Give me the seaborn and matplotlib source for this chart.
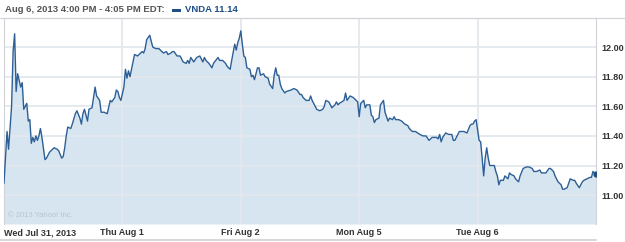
import matplotlib
matplotlib.use("Agg")
import matplotlib.pyplot as plt
from matplotlib.lines import Line2D
import numpy as np
import pandas as pd
import seaborn as sns

# ---- data (minutes since 9:30 open, price) ----
day_labels = ["Wed Jul 31, 2013", "Thu Aug 1", "Fri Aug 2", "Mon Aug 5", "Tue Aug 6"]

d0_min = [0, 10, 15, 25, 30, 35, 40, 45, 55, 60, 65, 75, 80, 85, 90, 95, 100, 105, 110, 115,
          120, 125, 135, 140, 150, 165, 175, 180, 190, 195, 200, 205, 210, 220, 225, 235, 240,
          250, 255, 260, 265, 275, 280, 290, 300, 305, 315, 320, 330, 340, 350, 355, 365, 370,
          375, 380, 385]
d0_px = [11.08, 11.43, 11.31, 11.60, 11.97, 12.09, 11.70, 11.82, 11.73, 11.76, 11.58, 11.62, 11.50,
         11.51, 11.35, 11.39, 11.36, 11.40, 11.37, 11.40, 11.45, 11.39, 11.24, 11.25, 11.29,
         11.32, 11.31, 11.30, 11.25, 11.26, 11.32, 11.40, 11.46, 11.45, 11.48, 11.55, 11.57,
         11.52, 11.48, 11.55, 11.58, 11.50, 11.58, 11.59, 11.73, 11.67, 11.64, 11.56, 11.56,
         11.55, 11.64, 11.63, 11.66, 11.71, 11.70, 11.66, 11.64]

d1_min = [5, 10, 15, 20, 25, 35, 40, 50, 55, 65, 70, 75, 80, 90, 95, 100, 110, 120, 130, 135,
          145, 150, 160, 165, 170, 180, 190, 200, 210, 215, 220, 225, 235, 245, 255, 265, 270,
          275, 285, 295, 300, 315, 320, 330, 340, 345, 355, 360, 370, 375, 380, 385]
d1_px = [11.73, 11.85, 11.79, 11.84, 11.80, 11.90, 11.95, 11.94, 11.95, 11.97, 11.96, 11.99,
         12.05, 12.08, 12.04, 12.00, 11.99, 11.99, 11.97, 11.96, 11.97, 11.95, 11.96, 11.97,
         11.97, 11.94, 11.94, 11.90, 11.89, 11.91, 11.89, 11.93, 11.90, 11.93, 11.94, 11.90,
         11.93, 11.91, 11.89, 11.86, 11.89, 11.93, 11.91, 11.91, 11.89, 11.87, 11.85, 11.91,
         12.02, 11.98, 12.03, 12.06]

d2_min = [0, 5, 10, 15, 20, 30, 35, 40, 45, 55, 60, 65, 75, 80, 90, 95, 105, 110, 115, 120,
          125, 130, 135, 145, 150, 165, 175, 185, 195, 200, 205, 215, 225, 230, 235, 245, 250,
          260, 270, 275, 280, 290, 295, 300, 310, 315, 320, 325, 340, 345, 350, 360, 370, 375,
          380, 385]
d2_px = [12.11, 12.02, 11.94, 11.93, 11.86, 11.85, 11.80, 11.81, 11.78, 11.86, 11.86, 11.81,
         11.82, 11.80, 11.79, 11.75, 11.72, 11.81, 11.86, 11.81, 11.81, 11.75, 11.72, 11.69,
         11.70, 11.71, 11.72, 11.71, 11.68, 11.68, 11.66, 11.64, 11.64, 11.67, 11.64, 11.60,
         11.58, 11.57, 11.58, 11.60, 11.64, 11.63, 11.61, 11.59, 11.61, 11.63, 11.61, 11.62,
         11.64, 11.69, 11.64, 11.67, 11.66, 11.65, 11.64, 11.63]

d3_min = [0, 5, 15, 20, 25, 35, 40, 45, 50, 55, 65, 70, 80, 85, 95, 100, 110, 115, 120, 130,
          140, 150, 160, 165, 175, 185, 200, 210, 220, 230, 240, 255, 260, 265, 270, 275, 285,
          295, 305, 310, 315, 325, 330, 340, 345, 355, 365, 370, 375, 380, 385]
d3_px = [11.53, 11.62, 11.64, 11.59, 11.61, 11.61, 11.54, 11.53, 11.49, 11.51, 11.52, 11.61,
         11.64, 11.56, 11.50, 11.52, 11.51, 11.53, 11.51, 11.51, 11.50, 11.48, 11.47, 11.45,
         11.43, 11.43, 11.41, 11.40, 11.40, 11.37, 11.39, 11.39, 11.38, 11.41, 11.36, 11.39,
         11.42, 11.41, 11.41, 11.37, 11.37, 11.41, 11.43, 11.43, 11.43, 11.42, 11.47, 11.48,
         11.48, 11.50, 11.51]

d4_min = [5, 10, 15, 20, 25, 30, 35, 40, 45, 55, 60, 65, 70, 75, 85, 90, 100, 105, 110, 120,
          125, 135, 140, 150, 160, 170, 180, 185, 195, 205, 210, 225, 235, 240, 250, 255, 265,
          275, 280, 285, 295, 305, 315, 320, 325, 335, 345, 350, 360, 370, 375, 380, 390]
d4_px = [11.37, 11.36, 11.25, 11.13, 11.25, 11.32, 11.25, 11.20, 11.20, 11.20, 11.16, 11.13,
         11.07, 11.10, 11.10, 11.13, 11.11, 11.15, 11.14, 11.13, 11.11, 11.09, 11.13, 11.18,
         11.19, 11.19, 11.18, 11.16, 11.16, 11.17, 11.15, 11.15, 11.18, 11.18, 11.16, 11.13,
         11.09, 11.07, 11.04, 11.04, 11.05, 11.11, 11.10, 11.10, 11.08, 11.05, 11.09, 11.10,
         11.11, 11.12, 11.12, 11.16, 11.14]

y_ticks = [11.00, 11.20, 11.40, 11.60, 11.80, 12.00]
header_text = "Aug 6, 2013 4:00 PM - 4:05 PM EDT:"
legend_text = "VNDA 11.14"
copyright_text = "\u00a9 2013 Yahoo! Inc."
SESSION = 390.0

frames = []
for i, (m, p) in enumerate([(d0_min, d0_px), (d1_min, d1_px), (d2_min, d2_px),
                            (d3_min, d3_px), (d4_min, d4_px)]):
    frames.append(pd.DataFrame({"day": i, "minute": m, "price": p}))
df = pd.concat(frames, ignore_index=True)
df["t"] = df["day"] + df["minute"] / SESSION

# ---- styling ----
sns.set_style("white")
plt.rcParams["font.family"] = ["Liberation Sans", "DejaVu Sans"]

LINE = "#2d5f96"
FILL = "#d6e5f0"
GRID = "#e3e8ed"
SPINE = "#d0d4d8"
TXT = "#333333"

fig = plt.figure(figsize=(6.25, 2.42), dpi=100)
ax = fig.add_axes([4 / 625, (242 - 224) / 242, 592 / 625, (224 - 17.5) / 242])

ymin, ymax = 10.805, 12.20
ax.fill_between(df["t"], df["price"], ymin, color=FILL, lw=0, zorder=1)
for yv in y_ticks:
    ax.axhline(yv, color=GRID, lw=1.3, zorder=2)
for d in range(1, 5):
    ax.axvline(d, color=GRID, lw=1.3, zorder=2)
sns.lineplot(data=df, x="t", y="price", ax=ax, color=LINE, lw=1.0, zorder=3,
             estimator=None, sort=False)
last = df.iloc[-1]
ax.plot([last["t"]], [last["price"]], "o", color="#1f4f86", ms=3.5, zorder=4)

ax.set_xlim(0, 5)
ax.set_ylim(ymin, ymax)
ax.set_xlabel("")
ax.set_ylabel("")
ax.set_xticks([])
ax.yaxis.tick_right()
ax.set_yticks(y_ticks)
ax.set_yticklabels([f"{v:.2f}" for v in y_ticks], fontsize=6.5, fontweight="bold", color=TXT)
ax.tick_params(axis="y", length=0, pad=4)
for s in ["left", "top", "right"]:
    ax.spines[s].set_color(SPINE)
    ax.spines[s].set_linewidth(0.8)
ax.spines["bottom"].set_visible(False)

# day labels below the axis
tr = ax.get_xaxis_transform()
ax.text(0.0, -0.043, day_labels[0], transform=tr, ha="left", va="center",
        fontsize=6.5, fontweight="bold", color=TXT)
for d in range(1, 5):
    ax.text(d, -0.043, day_labels[d], transform=tr, ha="center", va="center",
            fontsize=6.5, fontweight="bold", color=TXT)

ax.text(0.007, 0.04, copyright_text, transform=ax.transAxes, ha="left", va="center",
        fontsize=5.5, color="#b9c5ce")

# header
fig.text(5 / 625, 1 - 10 / 242, header_text, ha="left", va="center", fontsize=6.8,
         fontweight="bold", color="#555555")
fig.add_artist(plt.Rectangle((172 / 625, 1 - 11.5 / 242), 9 / 625, 3 / 242,
                             transform=fig.transFigure, color="#1f4f86", lw=0))
fig.text(185 / 625, 1 - 10 / 242, legend_text, ha="left", va="center", fontsize=6.8,
         fontweight="bold", color="#1f4f86")
fig.add_artist(Line2D([0, 625 / 625], [1 - 17.5 / 242] * 2, transform=fig.transFigure,
                      color=SPINE, lw=0.8))
fig.add_artist(Line2D([0, 596 / 625], [1 - 239.5 / 242] * 2, transform=fig.transFigure,
                      color="#d8d8d8", lw=1.5))

fig.savefig("out.png", dpi=100)
